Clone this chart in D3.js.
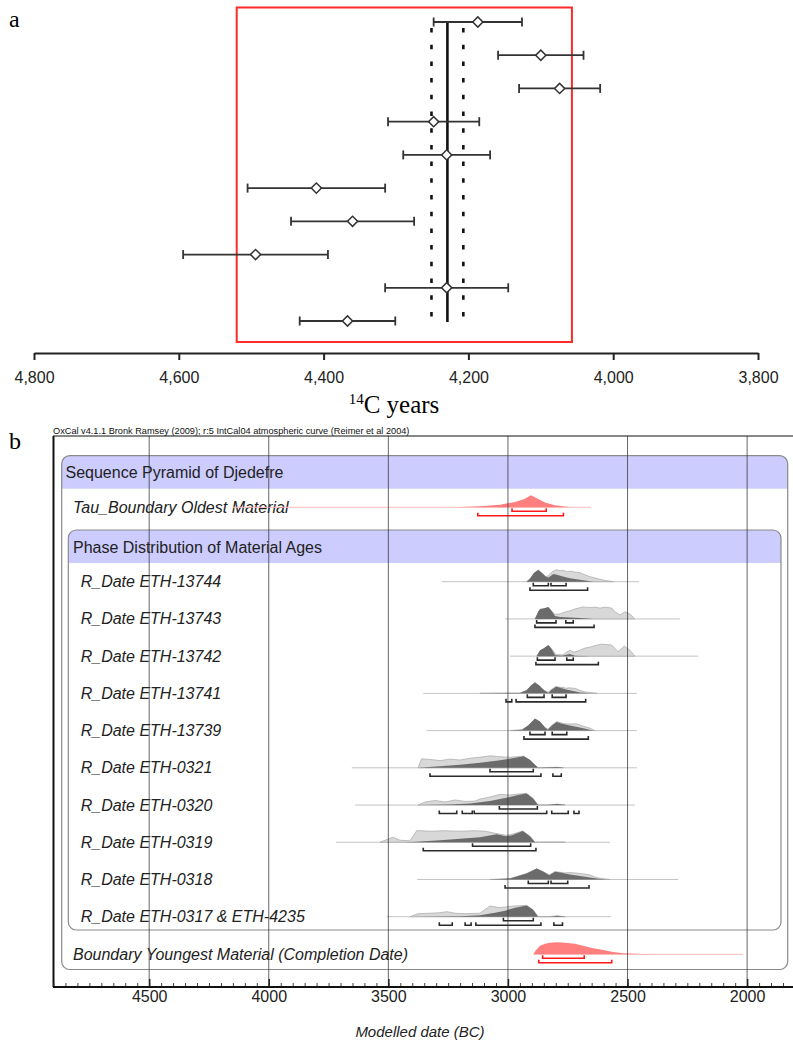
<!DOCTYPE html>
<html>
<head>
<meta charset="utf-8">
<script src="https://cdn.jsdelivr.net/npm/d3@7"></script>
<style>
  body { margin: 0; background: #fff; }
  svg text { font-family: "Liberation Sans", Arial, sans-serif; }
</style>
</head>
<body>
<div id="chart"></div>
<script>
// ---------- panel a : conventional 14C ages ----------
var c14Means  = [4187, 4100, 4074, 4248, 4230, 4410, 4360, 4494, 4230, 4367];
var c14Errors = [61, 59, 56, 63, 60, 95, 85, 100, 85, 66];
var pooledMean = 4229, pooledError = 22;
var windowRange = [4520, 4057];
var c14Ticks = [4800, 4600, 4400, 4200, 4000, 3800];

// ---------- panel b : OxCal model (years BC) ----------
var rDateLabels = ["R_Date ETH-13744", "R_Date ETH-13743", "R_Date ETH-13742", "R_Date ETH-13741",
  "R_Date ETH-13739", "R_Date ETH-0321", "R_Date ETH-0320", "R_Date ETH-0319", "R_Date ETH-0318",
  "R_Date ETH-0317 & ETH-4235"];
var rDateSpan = [[3277,2452],[3012,2281],[2991,2204],[3354,2461],[3340,2461],[3653,2461],[3639,2469],[3719,2573],[3379,2288],[3507,2570]];

// unmodelled (light) probability, [year BC, relative density]
var rDateLikelihood = [
  [[2922,0],[2908,0.25],[2891,0.67],[2874,0.85],[2858,0.67],[2841,0.42],[2831,0.5],[2815,0.83],[2796,1.0],[2782,0.92],[2770,0.96],[2753,0.83],[2736,0.88],[2720,0.8],[2699,0.75],[2678,0.58],[2657,0.42],[2615,0.2],[2586,0.08],[2559,0]],
  [[2887,0],[2866,0.75],[2833,0.92],[2803,0.38],[2782,0.42],[2761,0.58],[2741,0.67],[2720,0.83],[2686,1.0],[2657,0.94],[2636,0.98],[2615,0.9],[2594,0.98],[2566,0.9],[2552,0.58],[2531,0.33],[2510,0.6],[2490,0.4],[2469,0]],
  [[2880,0],[2866,0.42],[2849,0.58],[2833,0.83],[2816,0.58],[2799,0.12],[2770,0.12],[2741,0.5],[2724,0.33],[2708,0.42],[2678,0.67],[2657,0.75],[2636,0.88],[2608,1.0],[2586,0.96],[2566,0.92],[2540,0.36],[2514,0.83],[2490,0.5],[2469,0]],
  [[3117,0],[2991,0.03],[2950,0.03],[2922,0.25],[2903,0.62],[2887,0.85],[2870,0.62],[2849,0.25],[2831,0.1],[2820,0.3],[2799,0.58],[2782,0.5],[2770,0.5],[2757,0.42],[2745,0.46],[2720,0.42],[2699,0.25],[2678,0.12],[2629,0]],
  [[2991,0],[2941,0.08],[2916,0.38],[2887,0.92],[2866,0.7],[2845,0.25],[2833,0.12],[2816,0.45],[2796,0.75],[2774,0.62],[2753,0.55],[2713,0.56],[2690,0.4],[2657,0.2],[2636,0]],
  [[3376,0],[3361,0.75],[3326,0.7],[3284,0.6],[3242,0.72],[3200,0.65],[3158,0.8],[3117,0.88],[3075,1.0],[3033,0.92],[2991,0.88],[2950,0.95],[2933,0.97],[2908,0.5],[2874,0],[2795,0.05],[2770,0]],
  [[3376,0],[3347,0.25],[3305,0.38],[3263,0.25],[3221,0.42],[3179,0.3],[3138,0.33],[3117,0.5],[3075,0.67],[3033,0.89],[2991,0.83],[2958,0.92],[2922,0.97],[2895,0.55],[2874,0],[2824,0],[2796,0.08],[2761,0]],
  [[3535,0],[3481,0.42],[3452,0.17],[3410,0.12],[3381,0.97],[3326,0.92],[3263,0.96],[3200,0.92],[3138,0.96],[3096,0.92],[3054,0.75],[3008,0.58],[2983,0.67],[2938,0.94],[2908,0.5],[2887,0],[2780,0.03],[2760,0]],
  [[3075,0],[2991,0.08],[2922,0.5],[2880,0.88],[2853,0.65],[2827,0.38],[2803,0.66],[2782,0.6],[2761,0.55],[2741,0.58],[2720,0.55],[2699,0.5],[2678,0.45],[2657,0.38],[2636,0.2],[2615,0.1],[2573,0]],
  [[3410,0],[3376,0.25],[3326,0.29],[3284,0.33],[3256,0.42],[3221,0.29],[3179,0.25],[3117,0.29],[3075,0.89],[3033,0.75],[2984,0.88],[2950,0.92],[2922,0.94],[2895,0.58],[2874,0],[2824,0],[2795,0.07],[2761,0]]
];

// modelled (dark) probability
var rDatePosterior = [
  [[2922,0],[2908,0.25],[2891,0.75],[2873,1.0],[2858,0.75],[2841,0.42],[2831,0.36],[2820,0.5],[2810,0.64],[2795,0.58],[2774,0.46],[2741,0.29],[2699,0.17],[2643,0]],
  [[2887,0],[2874,0.6],[2866,0.83],[2849,0.88],[2831,1.0],[2820,0.75],[2803,0.25],[2782,0.17],[2741,0.12],[2699,0.08],[2644,0]],
  [[2880,0],[2866,0.5],[2849,0.67],[2831,0.92],[2820,0.67],[2803,0.08],[2774,0.04],[2741,0.17],[2720,0.04],[2657,0]],
  [[3117,0],[2991,0.03],[2950,0.03],[2922,0.25],[2903,0.67],[2887,0.92],[2870,0.67],[2849,0.25],[2831,0.04],[2820,0.25],[2799,0.56],[2782,0.46],[2757,0.33],[2732,0.21],[2699,0.08],[2657,0]],
  [[2991,0],[2941,0.08],[2916,0.42],[2887,1.0],[2866,0.75],[2845,0.25],[2833,0.08],[2816,0.42],[2796,0.72],[2774,0.58],[2741,0.42],[2699,0.25],[2644,0]],
  [[3376,0],[3284,0.12],[3200,0.25],[3117,0.42],[3033,0.62],[2970,0.83],[2933,0.97],[2908,0.67],[2874,0],[2824,0.04],[2795,0.06],[2761,0]],
  [[3376,0],[3242,0.04],[3158,0.12],[3075,0.33],[3012,0.58],[2958,0.83],[2922,0.97],[2895,0.55],[2874,0],[2833,0],[2796,0.08],[2761,0]],
  [[3430,0],[3381,0.04],[3284,0.17],[3200,0.29],[3117,0.42],[3047,0.67],[3008,0.5],[2983,0.58],[2938,0.94],[2908,0.5],[2887,0]],
  [[3075,0],[2991,0.08],[2922,0.5],[2880,0.92],[2853,0.67],[2827,0.36],[2803,0.64],[2782,0.58],[2741,0.42],[2699,0.29],[2657,0.17],[2615,0.04],[2586,0]],
  [[3376,0],[3200,0.04],[3117,0.12],[3054,0.33],[3012,0.5],[2970,0.75],[2922,0.94],[2895,0.58],[2874,0],[2824,0],[2795,0.07],[2761,0]]
];

// 68.2% and 95.4% highest posterior density ranges
var rDate68 = [
  [[2894,2831],[2820,2757]], [[2880,2799],[2758,2727]], [[2877,2803],[2754,2727]],
  [[2919,2849],[2815,2757]], [[2908,2845],[2815,2754]], [[3075,2894]],
  [[3036,2877]], [[3148,2905]], [[2915,2831],[2820,2750]], [[3019,2894]]
];
var rDate95 = [
  [[2908,2667]], [[2887,2640]], [[2883,2622]], [[3008,2984],[2966,2675]], [[2933,2664]],
  [[3326,2862],[2812,2777]], [[3287,3214],[3191,3149],[3141,2838],[2817,2748],[2724,2703]],
  [[3354,2883]], [[3012,2661]], [[3287,3233],[3179,3154],[3134,2862],[2808,2772]]
];

// boundaries
var oldestSpan = [4150, 2653];
var oldestDensity = [[3214,0],[3117,0.08],[3033,0.22],[2970,0.45],[2929,0.72],[2905,1.0],[2883,0.8],[2845,0.4],[2803,0.17],[2740,0]];
var oldest68 = [[2983,2840]];
var oldest95 = [[3126,2768]];
var youngestSpan = [2894, 2016];
var youngestDensity = [[2894,0],[2883,0.33],[2866,0.72],[2845,0.88],[2824,0.96],[2796,1.0],[2761,0.96],[2720,0.88],[2686,0.72],[2644,0.5],[2601,0.36],[2561,0.2],[2517,0.08],[2448,0.02],[2364,0]];
var youngest68 = [[2855,2681]];
var youngest95 = [[2871,2566]];

var bcMajor = [4500, 4000, 3500, 3000, 2500, 2000];

// ================= drawing =================
var svg = d3.select("#chart").append("svg")
    .attr("width", 793).attr("height", 1043);

// ---------- panel a ----------
var xa = d3.scaleLinear().domain([4800, 3800]).range([34, 758]);
var ya = d3.scalePoint().domain(d3.range(c14Means.length)).range([22, 321]);

svg.append("text").attr("x", 9).attr("y", 27)
    .style("font-family", "'Liberation Serif', 'Times New Roman', serif")
    .style("font-size", "24px").text("a");

svg.append("rect")
    .attr("x", xa(windowRange[0])).attr("y", 7.5)
    .attr("width", xa(windowRange[1]) - xa(windowRange[0])).attr("height", 334.5)
    .attr("fill", "none").attr("stroke", "#ff2a2a").attr("stroke-width", 2);

// pooled mean and its error
svg.append("line")
    .attr("x1", xa(pooledMean)).attr("x2", xa(pooledMean))
    .attr("y1", ya(0)).attr("y2", ya(c14Means.length - 1) + 1)
    .attr("stroke", "#111").attr("stroke-width", 2.6);
[pooledMean + pooledError, pooledMean - pooledError].forEach(function(v) {
  svg.append("line")
    .attr("x1", xa(v)).attr("x2", xa(v))
    .attr("y1", ya(0) + 6).attr("y2", ya(c14Means.length - 1) + 1)
    .attr("stroke", "#111").attr("stroke-width", 2.6)
    .attr("stroke-dasharray", "4.5,12.2");
});

var bars = svg.append("g").selectAll("g")
  .data(c14Means).enter().append("g")
    .attr("transform", function(d, i) { return "translate(0," + ya(i) + ")"; });
bars.append("line")
    .attr("x1", function(d, i) { return xa(d + c14Errors[i]); })
    .attr("x2", function(d, i) { return xa(d - c14Errors[i]); })
    .attr("stroke", "#333").attr("stroke-width", 1.8);
bars.append("line")
    .attr("x1", function(d, i) { return xa(d + c14Errors[i]); })
    .attr("x2", function(d, i) { return xa(d + c14Errors[i]); })
    .attr("y1", -4.5).attr("y2", 4.5)
    .attr("stroke", "#333").attr("stroke-width", 1.8);
bars.append("line")
    .attr("x1", function(d, i) { return xa(d - c14Errors[i]); })
    .attr("x2", function(d, i) { return xa(d - c14Errors[i]); })
    .attr("y1", -4.5).attr("y2", 4.5)
    .attr("stroke", "#333").attr("stroke-width", 1.8);
bars.append("path")
    .attr("d", d3.symbol(d3.symbolSquare, 52))
    .attr("transform", function(d) { return "translate(" + xa(d) + ",0) rotate(45)"; })
    .attr("fill", "#fff").attr("stroke", "#333").attr("stroke-width", 1.5);

var axA = svg.append("g")
    .attr("transform", "translate(0,353)")
    .call(d3.axisBottom(xa).tickValues(c14Ticks).tickFormat(d3.format(","))
      .tickSize(7).tickSizeOuter(0).tickPadding(12));
axA.select(".domain").attr("stroke", "#222").attr("stroke-width", 2);
axA.selectAll(".tick line").attr("stroke", "#222").attr("stroke-width", 2);
axA.selectAll(".tick text").style("font-size", "16px").attr("fill", "#222");

var c14Title = svg.append("text").attr("x", 394).attr("y", 413)
    .attr("text-anchor", "middle")
    .style("font-family", "'Liberation Serif', 'Times New Roman', serif")
    .style("font-size", "25px");
c14Title.append("tspan").style("font-size", "15px").attr("dy", -9).text("14");
c14Title.append("tspan").attr("dy", 9).text("C years");

// ---------- panel b ----------
var xb = d3.scaleLinear().domain([4900, 1850]).range([53.5, 783]);
var yr = d3.scalePoint().domain(d3.range(rDateLabels.length)).range([581.7, 916.7]);
var hScale = d3.scaleLinear().domain([0, 1]).range([0, 12]);
var frameTop = 436, frameBottom = 987;

svg.append("text").attr("x", 9).attr("y", 449)
    .style("font-family", "'Liberation Serif', 'Times New Roman', serif")
    .style("font-size", "24px").text("b");

svg.append("text").attr("x", 53).attr("y", 434)
    .style("font-size", "9.2px").attr("fill", "#111")
    .text("OxCal v4.1.1 Bronk Ramsey (2009); r:5 IntCal04 atmospheric curve (Reimer et al 2004)");

// rounded group boxes with lavender headers
function groupBox(x0, x1, y0, y1, header, hx) {
  var id = "clip" + Math.round(y0);
  svg.append("clipPath").attr("id", id)
    .append("rect").attr("x", x0).attr("y", y0).attr("width", x1 - x0).attr("height", y1 - y0).attr("rx", 8);
  svg.append("rect").attr("x", x0).attr("y", y0).attr("width", x1 - x0).attr("height", y1 - y0)
    .attr("rx", 8).attr("fill", "#fff");
  svg.append("rect").attr("x", x0).attr("y", y0).attr("width", x1 - x0).attr("height", 33)
    .attr("fill", "#ccccff").attr("clip-path", "url(#" + id + ")");
  svg.append("rect").attr("x", x0).attr("y", y0).attr("width", x1 - x0).attr("height", y1 - y0)
    .attr("rx", 8).attr("fill", "none").attr("stroke", "#8a8a8a").attr("stroke-width", 1.2);
  svg.append("text").attr("x", hx).attr("y", y0 + 22.5)
    .style("font-size", "16px").attr("fill", "#222").text(header);
}
groupBox(61.7, 787.7, 455.7, 969.5, "Sequence Pyramid of Djedefre", 65.5);

function labelRow(y, label, x) {
  svg.append("text").attr("x", x).attr("y", y + 5.5)
    .style("font-size", "16px").style("font-style", "italic").attr("fill", "#222").text(label);
}
labelRow(507, "Tau_Boundary Oldest Material", 73);
groupBox(68.3, 781, 530, 930, "Phase Distribution of Material Ages", 73);
labelRow(954, "Boundary Youngest Material (Completion Date)", 73);

function areaAt(base) {
  return d3.area().x(function(d) { return xb(d[0]); })
    .y0(base).y1(function(d) { return base - hScale(d[1]); });
}
function brackets(ranges, y, colour) {
  svg.append("g").selectAll("path").data(ranges).enter().append("path")
    .attr("d", function(r) {
      return "M" + xb(r[0]) + "," + (y - 3) + "V" + y + "H" + xb(r[1]) + "V" + (y - 3);
    })
    .attr("fill", "none").attr("stroke", colour).attr("stroke-width", 1.6);
}

// boundary rows (red)
function boundaryRow(base, span, dens, r68, r95) {
  svg.append("line").attr("x1", xb(span[0])).attr("x2", xb(span[1]))
    .attr("y1", base).attr("y2", base).attr("stroke", "#ffbcbc").attr("stroke-width", 1);
  svg.append("path").datum(dens).attr("d", areaAt(base)).attr("fill", "#ff7f7f");
  brackets(r68, base + 4, "#ff1a1a");
  brackets(r95, base + 8.5, "#ff1a1a");
}
boundaryRow(507.3, oldestSpan, oldestDensity, oldest68, oldest95);
boundaryRow(954.3, youngestSpan, youngestDensity, youngest68, youngest95);

// R_Date rows
rDateLabels.forEach(function(lab, i) {
  var base = yr(i);
  labelRow(base, lab, 80.7);
  svg.append("line").attr("x1", xb(rDateSpan[i][0])).attr("x2", xb(rDateSpan[i][1]))
    .attr("y1", base).attr("y2", base).attr("stroke", "#c4c4c4").attr("stroke-width", 1);
  svg.append("path").datum(rDateLikelihood[i]).attr("d", areaAt(base))
    .attr("fill", "#d8d8d8").attr("stroke", "#a8a8a8").attr("stroke-width", 0.7);
  svg.append("path").datum(rDatePosterior[i]).attr("d", areaAt(base))
    .attr("fill", "#6b6b6b");
  brackets(rDate68[i], base + 4, "#2a2a2a");
  brackets(rDate95[i], base + 8.5, "#2a2a2a");
});

// vertical grid lines on top
svg.append("g").selectAll("line").data(bcMajor).enter().append("line")
    .attr("x1", function(d) { return xb(d); }).attr("x2", function(d) { return xb(d); })
    .attr("y1", frameTop).attr("y2", frameBottom)
    .attr("stroke", "#333").attr("stroke-opacity", 0.75).attr("stroke-width", 1);

// frame
svg.append("line").attr("x1", 53).attr("x2", 793).attr("y1", frameTop).attr("y2", frameTop)
    .attr("stroke", "#111").attr("stroke-width", 1);
svg.append("line").attr("x1", 53.5).attr("x2", 53.5).attr("y1", frameTop).attr("y2", frameBottom)
    .attr("stroke", "#111").attr("stroke-width", 2);

// axis: minor ticks every 50 years, major every 500
var minorAxis = svg.append("g").attr("transform", "translate(0," + frameBottom + ")")
    .call(d3.axisBottom(xb).tickValues(d3.range(4900, 1849, -50)).tickFormat("")
      .tickSize(-4).tickSizeOuter(0));
minorAxis.select(".domain").remove();
minorAxis.selectAll(".tick line").attr("stroke", "#444").attr("stroke-width", 1);

var majorAxis = svg.append("g").attr("transform", "translate(0," + frameBottom + ")")
    .call(d3.axisBottom(xb).tickValues(bcMajor).tickFormat(d3.format("d"))
      .tickSize(-8).tickSizeOuter(0).tickPadding(4));
majorAxis.select(".domain").remove();
majorAxis.selectAll(".tick line").attr("stroke", "#222").attr("stroke-width", 1.5);
majorAxis.selectAll(".tick text").style("font-size", "16px").attr("fill", "#222");

svg.append("line").attr("x1", 53).attr("x2", 793).attr("y1", frameBottom).attr("y2", frameBottom)
    .attr("stroke", "#111").attr("stroke-width", 2);

svg.append("text").attr("x", 420).attr("y", 1037).attr("text-anchor", "middle")
    .style("font-size", "15px").style("font-style", "italic").attr("fill", "#222")
    .text("Modelled date (BC)");
</script>
</body>
</html>
